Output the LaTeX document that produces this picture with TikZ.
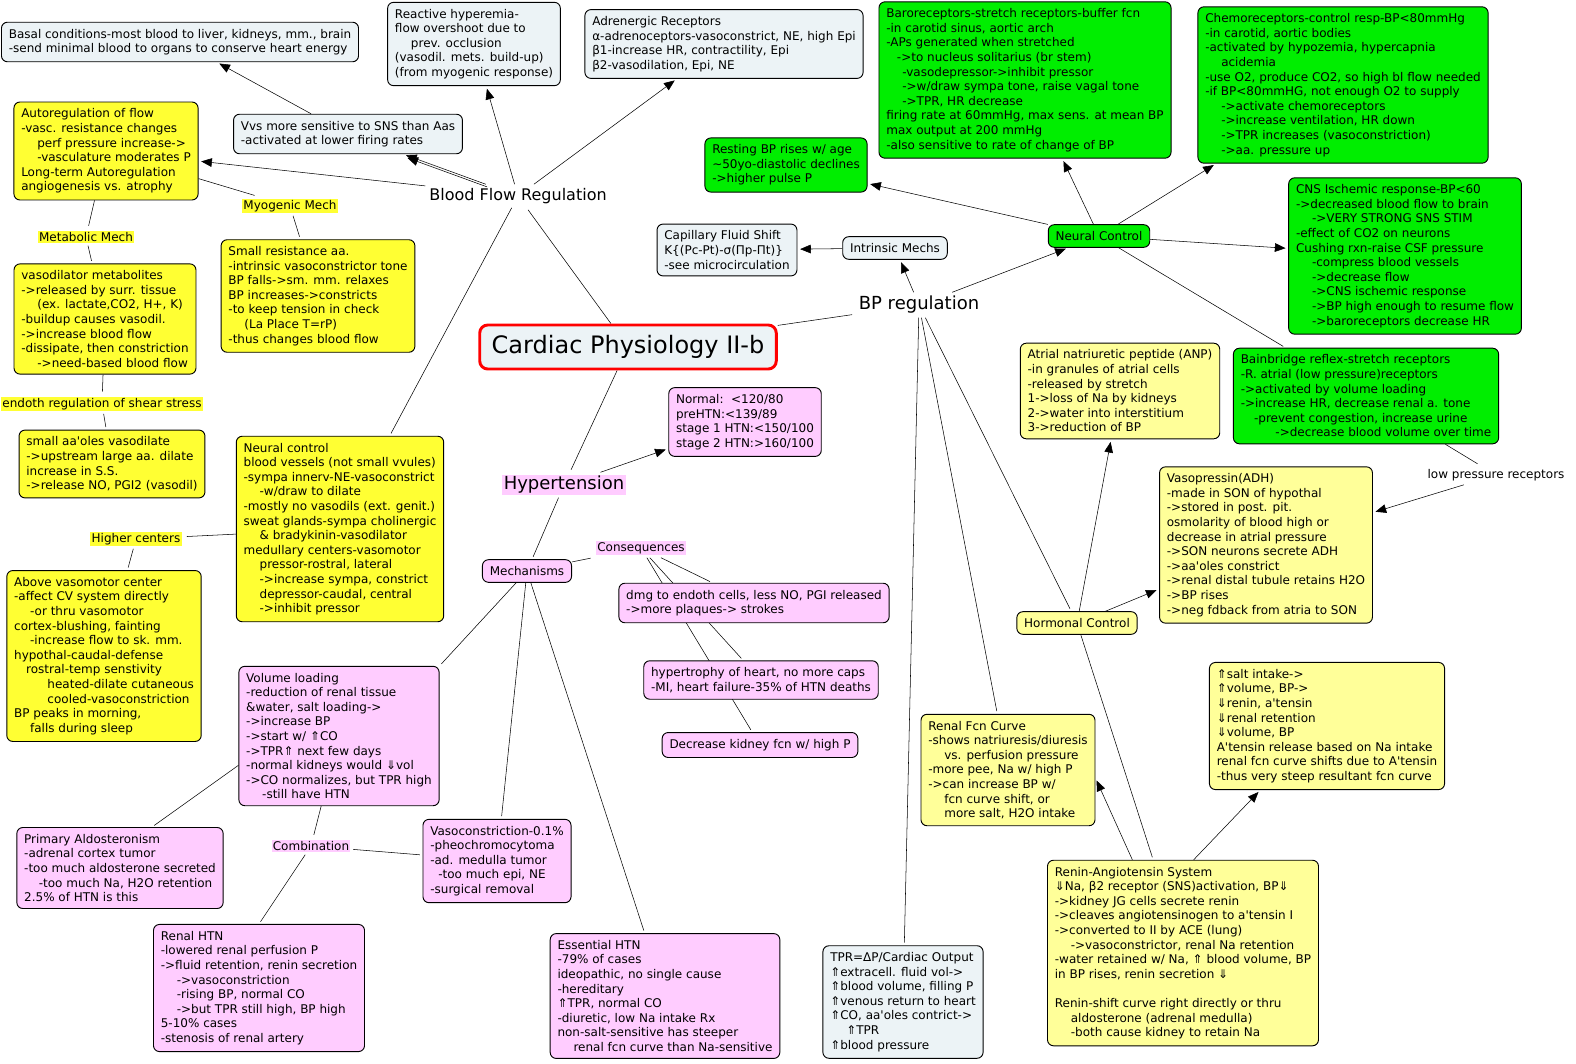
\documentclass[tikz,border=0pt]{standalone}
\usepackage{fontspec}
\setmainfont{DejaVu Sans}[Ligatures=TeXOff]
\usetikzlibrary{arrows.meta, positioning, backgrounds}
\definecolor{cgray}{RGB}{236,243,246}
\definecolor{cyel}{RGB}{255,255,51}
\definecolor{cpale}{RGB}{255,255,153}
\definecolor{cgreen}{RGB}{0,238,0}
\definecolor{cpink}{RGB}{255,204,255}
\newcommand{\ind}[1][12]{\hspace*{#1pt}}

\begin{document}
\begin{tikzpicture}[x=0.75pt, y=-0.75pt, >={Triangle[length=8pt,width=6.5pt]},
          every node/.style={font=\fontsize{9}{10.95}\selectfont},
          box/.style={draw, rounded corners=4.5pt, align=left, line width=0.7pt,
                      inner xsep=5.5pt, inner ysep=5pt},
          gbox/.style={box, fill=cgray}, ybox/.style={box, fill=cyel},
          pbox/.style={box, fill=cpale}, grbox/.style={box, fill=cgreen},
          kbox/.style={box, fill=cpink},
          lbl/.style={inner sep=1pt, outer sep=2pt},
          big/.style={lbl, font=\fontsize{13.5}{16}\selectfont},
          link/.style={line width=0.6pt, shorten >=2pt}]
  \useasboundingbox (0,0) rectangle (1576,1063);

  \node[box, draw=red, line width=2.2pt, rounded corners=6pt, fill=cgray,
        font=\fontsize{18}{21}\selectfont, inner xsep=9pt, minimum height=33pt]
        (title) at (628,347) {Cardiac Physiology II-b};

  \node[big, font=\fontsize{12}{14}\selectfont] (bfr) at (518,196) {Blood Flow Regulation};
  \node[gbox] (basal) at (180,42) {Basal conditions-most blood to liver, kidneys, mm., brain\\-send minimal blood to organs to conserve heart energy};
  \node[gbox] (reactive) at (474,44) {Reactive hyperemia-\\flow overshoot due to\\\ind prev. occlusion\\(vasodil. mets. build-up)\\(from myogenic response)};
  \node[gbox] (adren) at (724,44) {Adrenergic Receptors\\α-adrenoceptors-vasoconstrict, NE, high Epi\\β1-increase HR, contractility, Epi\\β2-vasodilation, Epi, NE};
  \node[gbox] (vvs) at (348,134) {Vvs more sensitive to SNS than Aas\\-activated at lower firing rates};
  \node[ybox] (autoreg) at (106,151) {Autoregulation of flow\\-vasc. resistance changes\\\ind perf pressure increase->\\\ind -vasculature moderates P\\Long-term Autoregulation\\angiogenesis vs. atrophy};
  \node[lbl, fill=cyel] (myo) at (290,206) {Myogenic Mech};
  \node[lbl, fill=cyel] (meta) at (86,237) {Metabolic Mech};
  \node[ybox] (smallres) at (318,296) {Small resistance aa.\\-intrinsic vasoconstrictor tone\\BP falls->sm. mm. relaxes\\BP increases->constricts\\-to keep tension in check\\\ind (La Place T=rP)\\-thus changes blood flow};
  \node[ybox] (vasodil) at (105,319) {vasodilator metabolites\\->released by surr. tissue\\\ind (ex. lactate,CO2, H+, K)\\-buildup causes vasodil.\\->increase blood flow\\-dissipate, then constriction\\\ind ->need-based blood flow};
  \node[lbl, fill=cyel] (endoth) at (102,404) {endoth regulation of shear stress};
  \node[ybox] (smallaa) at (112,464) {small aa'oles vasodilate\\->upstream large aa. dilate\\increase in S.S.\\->release NO, PGI2 (vasodil)};
  \node[ybox] (neuralctl) at (340,529) {Neural control\\blood vessels (not small vvules)\\-sympa innerv-NE-vasoconstrict\\\ind -w/draw to dilate\\-mostly no vasodils (ext. genit.)\\sweat glands-sympa cholinergic\\\ind \& bradykinin-vasodilator\\medullary centers-vasomotor\\\ind pressor-rostral, lateral\\\ind ->increase sympa, constrict\\\ind depressor-caudal, central\\\ind ->inhibit pressor};
  \node[lbl, fill=cyel] (higher) at (136,539) {Higher centers};
  \node[ybox] (above) at (104,656) {Above vasomotor center\\-affect CV system directly\\\ind -or thru vasomotor\\cortex-blushing, fainting\\\ind -increase flow to sk. mm.\\hypothal-caudal-defense\\\ind[9]rostral-temp senstivity\\\ind[25]heated-dilate cutaneous\\\ind[25]cooled-vasoconstriction\\BP peaks in morning,\\\ind falls during sleep};

  \node[big] (bpreg) at (919,305) {BP regulation};
  \node[gbox] (capil) at (727,250) {Capillary Fluid Shift\\K\{(Pc-Pt)-σ(Πp-Πt)\}\\-see microcirculation};
  \node[gbox] (intrin) at (895,248) {Intrinsic Mechs};
  \node[grbox] (neural) at (1099,236) {Neural Control};
  \node[grbox] (resting) at (786,165) {Resting BP rises w/ age\\\textasciitilde 50yo-diastolic declines\\->higher pulse P};
  \node[grbox] (baro) at (1025,80) {Baroreceptors-stretch receptors-buffer fcn\\-in carotid sinus, aortic arch\\-APs generated when stretched\\\ind[8]->to nucleus solitarius (br stem)\\\ind[12]-vasodepressor->inhibit pressor\\\ind[12]->w/draw sympa tone, raise vagal tone\\\ind[12]->TPR, HR decrease\\firing rate at 60mmHg, max sens. at mean BP\\max output at 200 mmHg\\-also sensitive to rate of change of BP};
  \node[grbox] (chemo) at (1343,85) {Chemoreceptors-control resp-BP<80mmHg\\-in carotid, aortic bodies\\-activated by hypozemia, hypercapnia\\\ind acidemia\\-use O2, produce CO2, so high bl flow needed\\-if BP<80mmHG, not enough O2 to supply\\\ind ->activate chemoreceptors\\\ind ->increase ventilation, HR down\\\ind ->TPR increases (vasoconstriction)\\\ind ->aa. pressure up};
  \node[grbox] (cns) at (1405,256) {CNS Ischemic response-BP<60\\->decreased blood flow to brain\\\ind ->VERY STRONG SNS STIM\\-effect of CO2 on neurons\\Cushing rxn-raise CSF pressure\\\ind -compress blood vessels\\\ind ->decrease flow\\\ind ->CNS ischemic response\\\ind ->BP high enough to resume flow\\\ind ->baroreceptors decrease HR};
  \node[grbox] (bain) at (1366,396) {Bainbridge reflex-stretch receptors\\-R. atrial (low pressure)receptors\\->activated by volume loading\\->increase HR, decrease renal a. tone\\\ind[10]-prevent congestion, increase urine\\\ind[26]->decrease blood volume over time};
  \node[lbl] (lowp) at (1496,475) {low pressure receptors};
  \node[pbox] (anp) at (1120,391) {Atrial natriuretic peptide (ANP)\\-in granules of atrial cells\\-released by stretch\\1->loss of Na by kidneys\\2->water into interstitium\\3->reduction of BP};
  \node[pbox] (vaso) at (1266,545) {Vasopressin(ADH)\\-made in SON of hypothal\\->stored in post. pit.\\osmolarity of blood high or\\decrease in atrial pressure\\->SON neurons secrete ADH\\->aa'oles constrict\\->renal distal tubule retains H2O\\->BP rises\\->neg fdback from atria to SON};
  \node[pbox] (hormonal) at (1077,623) {Hormonal Control};
  \node[pbox] (renalfcn) at (1008,770) {Renal Fcn Curve\\-shows natriuresis/diuresis\\\ind vs. perfusion pressure\\-more pee, Na w/ high P\\->can increase BP w/\\\ind fcn curve shift, or\\\ind more salt, H2O intake};
  \node[pbox] (salt) at (1327,726) {⇑salt intake->\\⇑volume, BP->\\⇓renin, a'tensin\\⇓renal retention\\⇓volume, BP\\A'tensin release based on Na intake\\renal fcn curve shifts due to A'tensin\\-thus very steep resultant fcn curve};
  \node[pbox] (ras) at (1183,953) {Renin-Angiotensin System\\⇓Na, β2 receptor (SNS)activation, BP⇓\\->kidney JG cells secrete renin\\->cleaves angiotensinogen to a'tensin I\\->converted to II by ACE (lung)\\\ind ->vasoconstrictor, renal Na retention\\-water retained w/ Na, ⇑ blood volume, BP\\in BP rises, renin secretion ⇓\\\mbox{}\\Renin-shift curve right directly or thru\\\ind aldosterone (adrenal medulla)\\\ind -both cause kidney to retain Na};
  \node[gbox] (tpr) at (903,1002) {TPR=ΔP/Cardiac Output\\⇑extracell. fluid vol->\\⇑blood volume, filling P\\⇑venous return to heart\\⇑CO, aa'oles contrict->\\\ind ⇑TPR\\⇑blood pressure};

  \node[big, fill=cpink] (htn) at (564,485) {Hypertension};
  \node[kbox] (normal) at (745,422) {Normal:\ \ <120/80\\preHTN:<139/89\\stage 1 HTN:<150/100\\stage 2 HTN:>160/100};
  \node[kbox] (mech) at (527,571) {Mechanisms};
  \node[lbl, fill=cpink] (cons) at (641,548) {Consequences};
  \node[kbox] (dmg) at (754,603) {dmg to endoth cells, less NO, PGI released\\->more plaques-> strokes};
  \node[kbox] (hypert) at (761,680) {hypertrophy of heart, no more caps\\-MI, heart failure-35\% of HTN deaths};
  \node[kbox] (kidney) at (760,745) {Decrease kidney fcn w/ high P};
  \node[kbox] (volume) at (339,736) {Volume loading\\-reduction of renal tissue\\\&water, salt loading->\\->increase BP\\->start w/ ⇑CO\\->TPR⇑ next few days\\-normal kidneys would ⇓vol\\->CO normalizes, but TPR high\\\ind -still have HTN};
  \node[kbox] (primary) at (120,868) {Primary Aldosteronism\\-adrenal cortex tumor\\-too much aldosterone secreted\\\ind[11]-too much Na, H2O retention\\2.5\% of HTN is this};
  \node[lbl, fill=cpink] (comb) at (311,846) {Combination};
  \node[kbox] (vasoc) at (497,861) {Vasoconstriction-0.1\%\\-pheochromocytoma\\-ad. medulla tumor\\\ind[6]-too much epi, NE\\-surgical removal};
  \node[kbox] (renalhtn) at (259,988) {Renal HTN\\-lowered renal perfusion P\\->fluid retention, renin secretion\\\ind ->vasoconstriction\\\ind -rising BP, normal CO\\\ind ->but TPR still high, BP high\\5-10\% cases\\-stenosis of renal artery};
  \node[kbox] (essential) at (665,996) {Essential HTN\\-79\% of cases\\ideopathic, no single cause\\-hereditary\\⇑TPR, normal CO\\-diuretic, low Na intake Rx\\non-salt-sensitive has steeper\\\ind renal fcn curve than Na-sensitive};

  \begin{scope}[on background layer, link]
    \fill[white] (0,0) rectangle (1576,1063);
    \draw (title) -- (bfr);
    \draw (title) -- (bpreg);
    \draw (title) -- (htn);
    \draw[->] (bfr) -- (vvs);
    \draw[->, transform canvas={xshift=1pt, yshift=-2pt}] (bfr) -- (vvs);
    \draw[->] (vvs) -- (basal);
    \draw[->] (bfr) -- (autoreg);
    \draw[->] (bfr) -- (reactive);
    \draw[->] (bfr) -- (adren);
    \draw (bfr) -- (neuralctl);
    \draw (autoreg) -- (myo);
    \draw (myo) -- (smallres);
    \draw (autoreg) -- (meta);
    \draw (meta) -- (vasodil);
    \draw (vasodil) -- (endoth);
    \draw (endoth) -- (smallaa);
    \draw (neuralctl) -- (higher);
    \draw (higher) -- (above);
    \draw[->] (bpreg) -- (intrin);
    \draw[->] (intrin) -- (capil);
    \draw[->] (bpreg) -- (neural);
    \draw[->] (neural) -- (resting);
    \draw[->] (neural) -- (baro);
    \draw[->] (neural) -- (chemo);
    \draw[->] (neural) -- (cns);
    \draw (neural) -- (bain);
    \draw (bain) -- (lowp);
    \draw[->] (lowp) -- (vaso);
    \draw (bpreg) -- (hormonal);
    \draw (bpreg) -- (renalfcn);
    \draw (bpreg) -- (tpr);
    \draw[->] (hormonal) -- (anp);
    \draw[->] (hormonal) -- (vaso);
    \draw (hormonal) -- (ras);
    \draw[->] ([xshift=-38pt]ras.north) -- ([yshift=-6pt]renalfcn.east);
    \draw[->] ([xshift=8pt]ras.north) -- ([xshift=-50pt]salt.south);
    \draw[->] (htn) -- (normal);
    \draw (htn) -- (mech);
    \draw (mech) -- (cons);
    \draw (cons) -- (dmg);
    \draw (cons) -- (hypert);
    \draw (cons) -- (kidney);
    \draw (mech) -- (volume.north east);
    \draw (mech) -- (vasoc);
    \draw (mech) -- (essential);
    \draw ([yshift=-22pt]volume.west) -- ([xshift=24pt]primary.north);
    \draw (volume) -- (comb);
    \draw (comb) -- (renalhtn.north);
    \draw (comb) -- (vasoc);
  \end{scope}
\end{tikzpicture}
\end{document}
